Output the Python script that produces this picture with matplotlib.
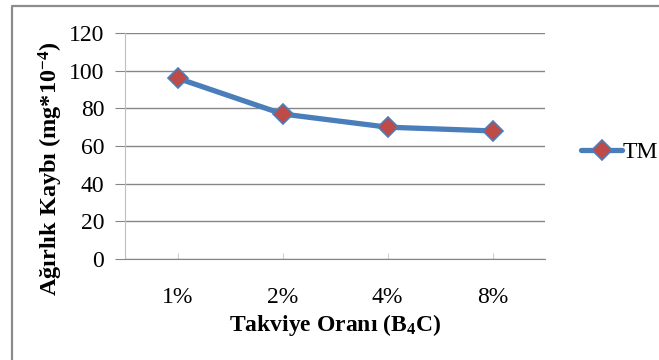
import matplotlib
matplotlib.use('Agg')
import matplotlib.pyplot as plt
from matplotlib.lines import Line2D

# wear loss vs reinforcement ratio
categories = ['1%', '2%', '4%', '8%']
tm_values = [96, 77, 70, 68]
y_ticks = [0, 20, 40, 60, 80, 100, 120]

plt.rcParams['font.family'] = ['Liberation Serif', 'DejaVu Serif']
plt.rcParams['mathtext.fontset'] = 'custom'
plt.rcParams['mathtext.rm'] = 'Liberation Serif:bold'
plt.rcParams['mathtext.it'] = 'Liberation Serif:bold'
plt.rcParams['mathtext.bf'] = 'Liberation Serif:bold'

W, H = 659, 360
fig = plt.figure(figsize=(W / 100, H / 100), dpi=100)

# chart frame: only the left and top edges fall inside the image
fig.lines.append(Line2D([11.5 / W, 11.5 / W, 1], [0, 1 - 6 / H, 1 - 6 / H],
                        transform=fig.transFigure, color='#8c8c8c', linewidth=1.6))

ax = fig.add_axes([125 / W, 1 - 259 / H, 420 / W, 226 / H])
x = list(range(len(categories)))
ax.plot(x, tm_values, color='#4a7ebb', linewidth=3.8, marker='D', markersize=10,
        markerfacecolor='#be4b48', markeredgecolor='#4a7ebb', markeredgewidth=1.2,
        label='TM', solid_capstyle='round', zorder=3)

ax.set_xlim(-0.5, len(categories) - 0.5)
ax.set_ylim(0, 120)
ax.set_yticks(y_ticks)
ax.set_xticks(x)
ax.set_xticklabels(categories)
ax.yaxis.grid(True, color='#868686', linewidth=1)
ax.set_axisbelow(True)

for s in ['top', 'right']:
    ax.spines[s].set_visible(False)
ax.spines['left'].set_color('#bfbfbf')
ax.spines['bottom'].set_color('#868686')
ax.tick_params(axis='y', length=7, color='#868686', labelsize=17, pad=8)
ax.tick_params(axis='x', direction='in', length=4, color='#d0d0d0', labelsize=17, pad=20)

ax.set_ylabel(r'Ağırlık Kaybı (mg*10$^{-4}$)', fontsize=17.5, fontweight='bold')
ax.yaxis.set_label_coords(-0.176, 0.40)
ax.set_xlabel(r'Takviye Oranı (B$_4$C)', fontsize=17, fontweight='bold')
ax.xaxis.set_label_coords(0.5, -0.29)
ax.xaxis.label.set_va('center')
ax.yaxis.label.set_va('center')

fig.legend(loc='center left', bbox_to_anchor=(572 / W, 1 - 152 / H), frameon=False,
           fontsize=17, handlelength=1.7, handletextpad=0.05, borderaxespad=0)

fig.savefig('out.png', dpi=100)
